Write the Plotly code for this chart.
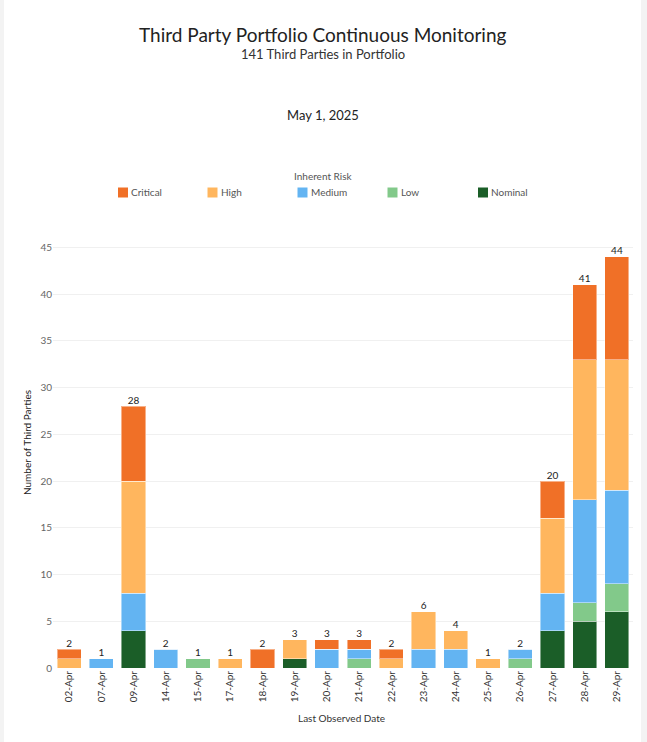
import plotly.graph_objects as go

dates = ["02-Apr", "07-Apr", "09-Apr", "14-Apr", "15-Apr", "17-Apr", "18-Apr", "19-Apr",
         "20-Apr", "21-Apr", "22-Apr", "23-Apr", "24-Apr", "25-Apr", "26-Apr", "27-Apr",
         "28-Apr", "29-Apr"]

nominal  = [0, 0, 4, 0, 0, 0, 0, 1, 0, 0, 0, 0, 0, 0, 0, 4, 5, 6]
low      = [0, 0, 0, 0, 1, 0, 0, 0, 0, 1, 0, 0, 0, 0, 1, 0, 2, 3]
medium   = [0, 1, 4, 2, 0, 0, 0, 0, 2, 1, 0, 2, 2, 0, 1, 4, 11, 10]
high     = [1, 0, 12, 0, 0, 1, 0, 2, 0, 0, 1, 4, 2, 1, 0, 8, 15, 14]
critical = [1, 0, 8, 0, 0, 0, 2, 0, 1, 1, 1, 0, 0, 0, 0, 4, 8, 11]

series_names = ["Nominal", "Low", "Medium", "High", "Critical"]
series_values = [nominal, low, medium, high, critical]
series_colors = ["#1B5E28", "#82C98A", "#63B4F2", "#FFB65E", "#F07027"]
legend_order = ["Critical", "High", "Medium", "Low", "Nominal"]

y_ticks = [0, 5, 10, 15, 20, 25, 30, 35, 40, 45]

totals = [sum(v) for v in zip(*series_values)]

FONT = "Lato"
W, H = 647, 742
ML, MR, MT, MB = 53, 14, 238, 74
PW, PH = W - ML - MR, H - MT - MB

def px(x):
    return (x - ML) / PW

def py(y):
    return (H - MB - y) / PH

fig = go.Figure()
for name, vals, col in zip(series_names, series_values, series_colors):
    fig.add_trace(go.Bar(
        x=dates, y=vals, name=name,
        marker=dict(color=col, line=dict(color="rgba(255,255,255,0.45)", width=1)),
        showlegend=False,
    ))

fig.add_trace(go.Scatter(
    x=dates, y=totals, mode="text", text=[str(t) for t in totals],
    textposition="top center", textfont=dict(family=FONT, size=10, color="#222"),
    showlegend=False, cliponaxis=False, hoverinfo="skip",
))

annotations = [
    dict(text="Third Party Portfolio Continuous Monitoring", x=px(323), y=py(35),
         font=dict(family=FONT, size=19, color="#222")),
    dict(text="141 Third Parties in Portfolio", x=px(323), y=py(54),
         font=dict(family=FONT, size=13, color="#333")),
    dict(text="May 1, 2025", x=px(323), y=py(115),
         font=dict(family=FONT, size=13, color="#222")),
    dict(text="Inherent Risk", x=px(323), y=py(176),
         font=dict(family=FONT, size=10, color="#555")),
    dict(text="Number of Third Parties", x=px(27), y=py(443), textangle=-90,
         font=dict(family=FONT, size=10, color="#222")),
    dict(text="Last Observed Date", x=px(341), y=py(718),
         font=dict(family=FONT, size=10, color="#333")),
]
shapes = [
    dict(type="rect", xref="paper", yref="paper", x0=px(0), x1=px(4), y0=py(H), y1=py(0),
         fillcolor="#f3f3f3", line=dict(width=0), layer="below"),
    dict(type="rect", xref="paper", yref="paper", x0=px(641), x1=px(W), y0=py(H), y1=py(0),
         fillcolor="#f3f3f3", line=dict(width=0), layer="below"),
]
leg_x = [118, 207.5, 297.5, 387.5, 478]
for name, lx in zip(legend_order, leg_x):
    col = series_colors[series_names.index(name)]
    shapes.append(dict(type="rect", xref="paper", yref="paper",
                       x0=px(lx), x1=px(lx + 10), y0=py(197.5), y1=py(187.5),
                       fillcolor=col, line=dict(width=0)))
    annotations.append(dict(text=name, x=px(lx + 11), y=py(192.5), xanchor="left",
                            font=dict(family=FONT, size=10, color="#555")))
for a in annotations:
    a.update(xref="paper", yref="paper", showarrow=False)
    a.setdefault("xanchor", "center")
    a.setdefault("yanchor", "middle")

fig.update_layout(
    width=W, height=H,
    margin=dict(l=ML, r=MR, t=MT, b=MB),
    paper_bgcolor="white", plot_bgcolor="white",
    barmode="stack", bargap=0.25,
    font=dict(family=FONT, size=10, color="#555"),
    annotations=annotations, shapes=shapes,
    xaxis=dict(type="category", tickangle=-90, showgrid=False, showline=False,
               range=[-0.5, len(dates) - 0.5],
               ticks="", automargin=False,
               tickfont=dict(family=FONT, size=10, color="#333")),
    yaxis=dict(range=[0, 46], tickvals=y_ticks, showgrid=True, gridcolor="#f0f0f0",
               zeroline=False, showline=False, ticks="", automargin=False,
               tickfont=dict(family=FONT, size=10, color="#666")),
)

fig.write_html("out.html")
